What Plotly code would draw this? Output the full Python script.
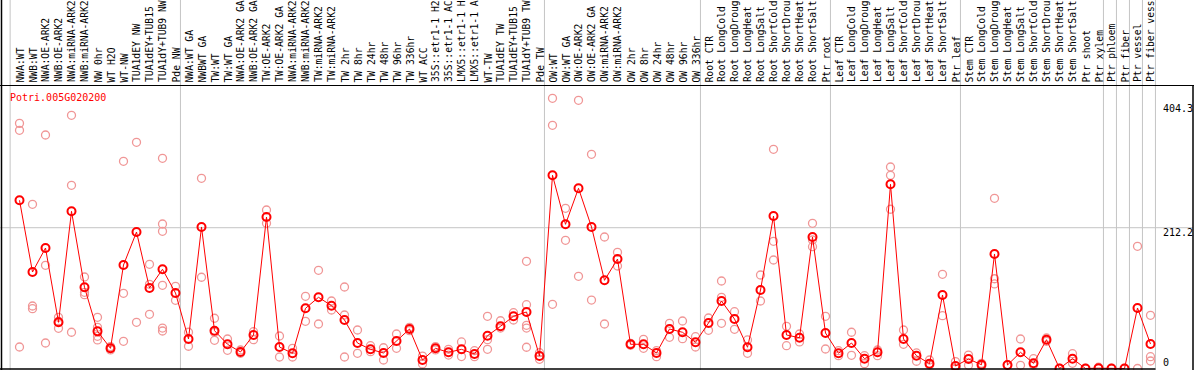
import plotly.graph_objects as go

# ---------------- data ----------------
gene_name = "Potri.005G020200"

# sample labels as they appear in the header (long names are cut at 14 characters)
sample_labels = [
    "NWA:WT", "NWB:WT", "NWA:OE-ARK2", "NWB:OE-ARK2", "NWA:miRNA-ARK2", "NWB:miRNA-ARK2",
    "NW 0hr", "WT H2O", "WT-NW", "TUA1dEY NW", "TUA1dEY+TUB15", "TUA1dY+TUB9 NW", "Pde NW",
    "NWA:WT GA", "NWBWT GA", "TW:WT", "TW:WT GA", "NWA:OE-ARK2 GA", "NWB:OE-ARK2 GA",
    "TW:OE-ARK2", "TW:OE-ARK2 GA", "NWA:miRNA-ARK2", "NWB:miRNA-ARK2", "TW:miRNA-ARK2",
    "TW:miRNA-ARK2", "TW 2hr", "TW 8hr", "TW 24hr", "TW 48hr", "TW 96hr", "TW 336hr",
    "WT ACC", "35S::etr1-1 H2", "35S::etr1-1 AC", "LMX5::etr1-1 H", "LMX5::etr1-1 A",
    "WT-TW", "TUA1dEY TW", "TUA1dEY+TUB15", "TUA1dY+TUB9 TW", "Pde TW",
    "OW:WT", "OW:WT GA", "OW:OE-ARK2", "OW:OE-ARK2 GA", "OW:miRNA-ARK2", "OW:miRNA-ARK2",
    "OW 2hr", "OW 8hr", "OW 24hr", "OW 48hr", "OW 96hr", "OW 336hr",
    "Root CTR", "Root LongCold", "Root LongDroug", "Root LongHeat", "Root LongSalt",
    "Root ShortCold", "Root ShortDrou", "Root ShortHeat", "Root ShortSalt", "Ptr root",
    "Leaf CTR", "Leaf LongCold", "Leaf LongDroug", "Leaf LongHeat", "Leaf LongSalt",
    "Leaf ShortCold", "Leaf ShortDrou", "Leaf ShortHeat", "Leaf ShortSalt", "Ptr leaf",
    "Stem CTR", "Stem LongCold", "Stem LongDroug", "Stem LongHeat", "Stem LongSalt",
    "Stem ShortCold", "Stem ShortDrou", "Stem ShortHeat", "Stem ShortSalt", "Ptr shoot",
    "Ptr xylem", "Ptr phloem", "Ptr fiber", "Ptr vessel", "Ptr fiber vess",
]

group_sizes = [13, 28, 12, 10, 10, 11, 1, 1, 1, 1]

mean_values = [
    253.5, 145.4, 181.6, 69.6, 236.9, 122.4, 56, 30.4, 156, 205.7, 121.3, 149.5, 113.8,
    44.5, 213.3, 57, 36.5, 24.9, 50.5, 228.3, 32.4, 22.9, 90.7, 107.3, 94.7, 73.1, 38.4,
    28.9, 23.4, 41.4, 59.5, 12.8, 30.4, 24.4, 28.9, 21.9, 49.4, 63.6, 78.7, 85.2, 18.8,
    291.2, 217.3, 271.6, 213.3, 132.9, 165, 36.5, 36.5, 23.4, 59.5, 54.6, 39.5,
    68.6, 101.7, 74.6, 32, 118.3, 229.8, 50.5, 46.4, 198.2, 53.5,
    22.9, 38.4, 14.8, 24.4, 277.6, 44.5, 19.3, 7.3, 110.8, 3.8,
    14.3, 5.7, 172.6, 5.3, 24.4, 7.8, 43.4, 0, 14.8, 0, 0.5,
    0, 0, 91.2, 36.9,
]

replicate_values = [
    [369.5, 359, 32.4], [247.5, 94.2, 90.1], [351.9, 155.5, 38.4], [77.2, 60.6, 71],
    [381.6, 276.1, 54.6], [137.9, 114.8, 111.2], [77.2, 62.1, 48.5, 43], [33, 28, 30],
    [312.3, 113.3, 41], [340.9, 69.6], [157, 126.9, 81.7], [316.8, 217.8, 206.8, 125.4, 61, 56.5],
    [123.9, 102.8],
    [54.6, 33.5], [286.7, 137.5], [75.7, 54.6, 42.5], [44.5, 27.4], [27.9, 22.9], [55.5, 43.4],
    [238.9, 218.8], [49, 17.3], [30.4, 17.3], [108.8, 71.1], [148, 67.1], [101.7, 88.2],
    [122.8, 80.6, 17.3], [58, 22.9], [34.4, 25.3], [31.3, 12.8], [52, 30.4], [62, 57],
    [18.8, 6.8], [33, 28], [28.9, 20.3], [40, 18], [26.8, 17.8], [78.7, 43.4, 28.9], [72, 61],
    [84.1, 73.1], [161.6, 96.2, 65.1, 61, 32], [23.8, 13.9],
    [407.2, 366.5, 96.8], [241.4, 193.2], [404.2, 139], [322.8, 103.2], [198.2, 67.1],
    [175.1, 154.5], [38, 35], [44, 30.4], [26.8, 17.8], [68.1, 47], [71.6, 44.9], [47.9, 32.4],
    [76.1, 57.6], [131.9, 107.3, 68.1], [85.6, 59.1], [43, 22.9], [140.9, 101.7],
    [330.4, 191.7, 163.5], [63.6, 34.4], [52, 40], [218.8, 193.7, 183.6], [78.7, 29.4],
    [26.8, 19.3], [54.6, 19.9], [19.3, 7.3], [27.9, 19.3], [303.7, 291.2, 240], [58, 36.5],
    [23.4, 10.9], [12.8, 5.3], [142, 79.6], [10.4, 0],
    [20.3, 4.8], [7.8, 3.8], [256.5, 135.3, 127.4], [5.3, 5.3], [44.5, 4.8], [14.8, 5.3],
    [46, 41], [0, 0], [22.3, 7.8], [0, 0], [2, 0],
    [0, 0], [0, 0], [184.2, 0], [80.2, 17.8, 11.3],
]

axis_ticks = [404.3, 212.2, 0]

# ---------------- layout helpers ----------------
W, H = 1194, 370
X_RANGE = [-1.5, 90.346]          # index units spanning the full width
Y_RANGE = [-2.26, 555.4]          # value units spanning the full height


def py2paper(py):
    return 1 - py / H


def px2paper(px):
    return px / W


xs = list(range(len(sample_labels)))
rep_x, rep_y = [], []
for i, vals in enumerate(replicate_values):
    for v in vals:
        rep_x.append(i)
        rep_y.append(v)

fig = go.Figure()
fig.add_trace(go.Scatter(
    x=rep_x, y=rep_y, mode="markers", cliponaxis=False, hoverinfo="skip",
    marker=dict(symbol="circle-open", size=8, color="rgb(240,150,150)", line=dict(width=1.3)),
))
fig.add_trace(go.Scatter(
    x=xs, y=mean_values, mode="lines+markers", cliponaxis=False,
    line=dict(color="#FF0000", width=1),
    marker=dict(symbol="circle-open", size=8, color="#FF0000", line=dict(width=2)),
))

shapes = []
# group separators
ends = []
acc = -1
for g in group_sizes:
    acc += g
    ends.append(acc)
sep_positions = [-0.72] + [e + 0.38 for e in ends]
for s in sep_positions:
    shapes.append(dict(type="line", xref="x", yref="paper", x0=s, x1=s, y0=0, y1=1,
                       line=dict(color="#C4C4C4", width=1), layer="below"))
# horizontal grid at middle tick
shapes.append(dict(type="line", xref="paper", yref="y", x0=0, x1=px2paper(1193),
                   y0=axis_ticks[1], y1=axis_ticks[1],
                   line=dict(color="#C4C4C4", width=1), layer="below"))
# frame
top_y = py2paper(85.5)
shapes.append(dict(type="line", xref="paper", yref="paper", x0=0, x1=1, y0=top_y, y1=top_y,
                   line=dict(color="black", width=1)))
shapes.append(dict(type="line", xref="paper", yref="paper", x0=px2paper(1.5), x1=px2paper(1.5),
                   y0=0, y1=1, line=dict(color="black", width=1.5)))
shapes.append(dict(type="line", xref="paper", yref="paper", x0=px2paper(1193), x1=px2paper(1193),
                   y0=0, y1=top_y, line=dict(color="black", width=1.5)))
shapes.append(dict(type="line", xref="x", yref="paper", x0=X_RANGE[0], x1=sep_positions[-1],
                   y0=py2paper(369), y1=py2paper(369), line=dict(color="black", width=1.5)))

annotations = []
mono = "DejaVu Sans Mono, Liberation Mono, monospace"
for i, lab in enumerate(sample_labels):
    annotations.append(dict(
        x=i, xref="x", y=py2paper(83.5), yref="paper", text=lab, textangle=-90,
        showarrow=False, xanchor="center", yanchor="bottom", borderpad=0,
        font=dict(family=mono, size=9.7, color="black"),
    ))
annotations.append(dict(
    x=px2paper(9), xref="paper", y=py2paper(97), yref="paper", text=gene_name,
    showarrow=False, xanchor="left", yanchor="middle", borderpad=0,
    font=dict(family=mono, size=10, color="#FF0000"),
))
tick_label_py = [108, 232, 362]
for val, pyv in zip(axis_ticks, tick_label_py):
    annotations.append(dict(
        x=px2paper(1162), xref="paper", y=py2paper(pyv), yref="paper",
        text=("%g" % val) if val == 0 else "%.1f" % val,
        showarrow=False, xanchor="left", yanchor="middle", borderpad=0,
        font=dict(family=mono, size=10, color="black"),
    ))

fig.update_layout(
    width=W, height=H, margin=dict(l=0, r=0, t=0, b=0, pad=0),
    paper_bgcolor="white", plot_bgcolor="white", showlegend=False,
    xaxis=dict(range=X_RANGE, visible=False, fixedrange=True),
    yaxis=dict(range=Y_RANGE, visible=False, fixedrange=True),
    shapes=shapes, annotations=annotations,
)

fig.write_html(
    "out.html",
    config={"displayModeBar": False},
    post_script="document.body.style.margin='0';document.body.style.padding='0';"
                "document.body.style.overflow='hidden';",
)
